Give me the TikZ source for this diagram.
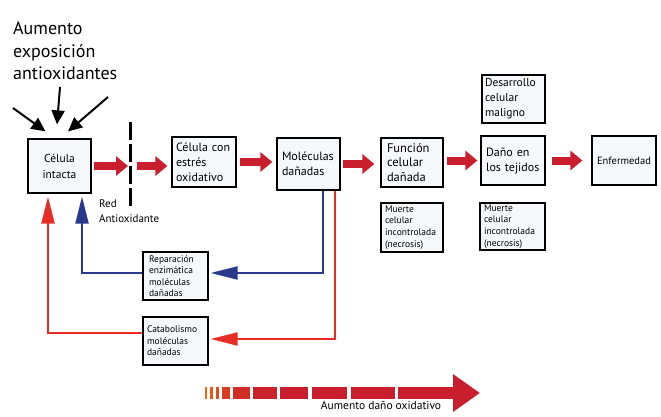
\documentclass[tikz,border=0pt]{standalone}
\usepackage{fontspec}
\setmainfont{PT Sans}
\usepackage{tikz}
\usetikzlibrary{arrows.meta, positioning}
\definecolor{flowred}{RGB}{200,30,45}
\definecolor{linered}{RGB}{232,45,38}
\definecolor{lineblue}{RGB}{42,56,140}
\definecolor{boxfill}{RGB}{246,249,252}
\hyphenpenalty=10000
\exhyphenpenalty=10000

\begin{document}
\begin{tikzpicture}[x=1pt,y=-1pt,
  cell/.style={draw, line width=1.2pt, fill=boxfill, inner ysep=0pt, align=left},
  flow/.style={-{Triangle[length=12pt,width=19pt]}, line width=8pt, flowred},
  back/.style={-{Triangle[length=27pt,width=13pt]}, line width=2pt},
  push/.style={-{Triangle[length=14pt,width=13pt]}, line width=2pt, black},
]
  \useasboundingbox (0,0) rectangle (661,417);

  % main chain
  \node[cell, inner xsep=5pt, text width=53pt, minimum height=54pt, align=center, font=\fontsize{11.5}{16}\selectfont] (intacta) at (59.5,166) {Célula\\intacta};
  \node[cell, inner xsep=4pt, text width=56pt, minimum height=50pt, font=\fontsize{12}{15}\selectfont] (estres) at (204,162) {Célula con\\estrés\\oxidativo};
  \node[cell, inner xsep=5pt, text width=53pt, minimum height=52pt, font=\fontsize{12}{15}\selectfont] (moleculas) at (308.5,164) {Moléculas\\dañadas};
  \node[cell, inner xsep=6pt, text width=50pt, minimum height=49pt, font=\fontsize{12.5}{14.5}\selectfont] (funcion) at (412,162.5) {Función\\celular\\dañada};
  \node[cell, inner xsep=5pt, text width=54pt, minimum height=49pt, font=\fontsize{12}{15}\selectfont] (dano) at (513,160.5) {Daño en\\los tejidos};
  \node[cell, inner xsep=3pt, text width=57pt, minimum height=48pt, font=\fontsize{11.5}{15}\selectfont] (maligno) at (513.5,99) {Desarrollo\\celular\\maligno};
  \node[cell, inner xsep=4pt, text width=56pt, minimum height=49pt, align=center, font=\fontsize{10.5}{13}\selectfont] (enfermedad) at (624,160.5) {Enfermedad};

  % side boxes
  \node[cell, inner xsep=4pt, text width=54pt, minimum height=49pt, font=\fontsize{9.5}{11.7}\selectfont] (necrosisA) at (412,227.5) {Muerte\\celular\\incontrolada\\(necrosis)};
  \node[cell, inner xsep=4pt, text width=57pt, minimum height=47pt, font=\fontsize{9.5}{11.7}\selectfont] (necrosisB) at (512.5,226.5) {Muerte\\celular\\incontrolada\\(necrosis)};
  \node[cell, inner xsep=6pt, text width=53pt, minimum height=48pt, font=\fontsize{9.5}{11.5}\selectfont] (reparacion) at (175.5,276) {Reparación\\enzimática\\moléculas\\dañadas};
  \node[cell, inner xsep=4pt, text width=57pt, minimum height=48pt, font=\fontsize{9.5}{11.5}\selectfont] (catabolismo) at (175.5,341) {Catabolismo\\moléculas\\dañadas};

  % exposure
  \node[anchor=north west, align=left, inner sep=0pt, font=\fontsize{18}{22.5}\selectfont] (expo) at (13,22) {Aumento\\exposición\\antioxidantes};
  \coordinate (pushL) at (13,108);
  \coordinate (pushM) at (60,87);
  \coordinate (pushR) at (108,97);
  \draw[push] (pushL) -- ([shift={(-14,-7)}]intacta.north);
  \draw[push] (pushM) -- ([shift={(-2.5,-14)}]intacta.north);
  \draw[push] (pushR) -- ([shift={(8.5,-7)}]intacta.north);

  % antioxidant barrier
  \coordinate (netT) at (130,122);
  \coordinate (netB) at (130,208);
  \coordinate (net) at (130,166);
  \draw[line width=3pt, dash pattern=on 18pt off 4pt] (netT) -- (netB);
  \node[anchor=north west, align=left, inner sep=0pt, font=\fontsize{11}{15}\selectfont] (redlbl) at (99,200) {Red\\Antioxidante};

  \draw[flow, shorten <=2pt, shorten >=2pt] (intacta.east) -- (net);
  \draw[flow, shorten <=7pt, shorten >=4pt] (net) -- (net -| estres.west);
  \draw[flow, shorten <=3pt, shorten >=4pt] (estres.east) -- (estres.east -| moleculas.west);
  \draw[flow, shorten <=2pt, shorten >=6pt] (moleculas.east) -- (moleculas.east -| funcion.west);
  \draw[flow, shorten <=3pt, shorten >=3pt] (dano.west -| funcion.east) -- (dano.west);
  \draw[flow, shorten <=6pt, shorten >=9pt] (dano.east) -- (enfermedad.west);

  % repair loops
  \draw[back, lineblue, shorten >=2pt] ([xshift=14.5pt]moleculas.south) |- ([yshift=3pt]reparacion.east);
  \draw[back, lineblue, shorten >=3pt] ([yshift=3pt]reparacion.west) -| ([xshift=22.5pt]intacta.south);
  \draw[back, linered, shorten >=2pt] ([xshift=26.5pt]moleculas.south) |- ([yshift=2pt]catabolismo.east);
  \draw[back, linered, shorten >=3pt] ([yshift=8pt]catabolismo.west) -| ([xshift=-11.5pt]intacta.south);

  % damage scale
  \foreach \a/\b/\c in {205/207/25, 210/213/40, 216/219/55, 222/230/70, 233/250/85, 253/277/95, 280/308/100, 312/347/100, 351/395/100}
    \fill[flowred!\c!orange] (\a,387) rectangle (\b,399);
  \coordinate (scaleA) at (398,393);
  \coordinate (scaleB) at (480,393);
  \draw[-{Triangle[length=27pt,width=36pt]}, line width=12pt, flowred] (scaleA) -- (scaleB);
  \node[font=\fontsize{11.5}{14}\selectfont] (scalelbl) at (381,405) {Aumento daño oxidativo};
\end{tikzpicture}
\end{document}
